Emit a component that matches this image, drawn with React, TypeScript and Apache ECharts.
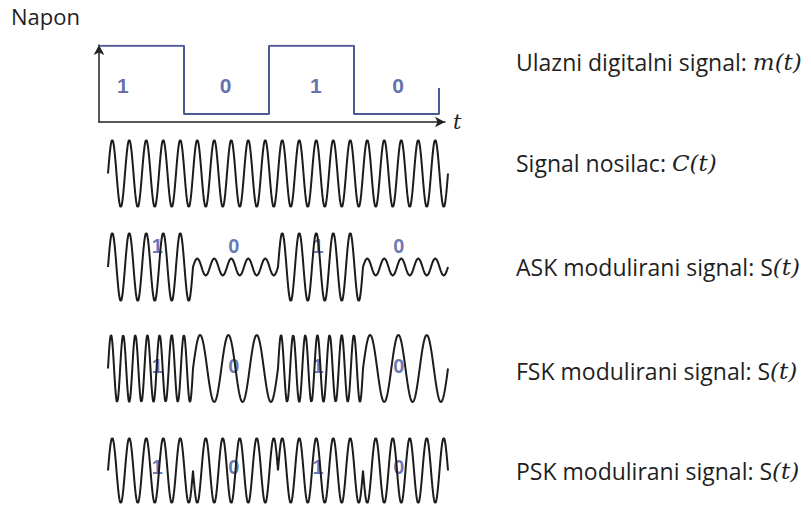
import { useEffect, useRef } from "react";
import * as echarts from "echarts";

// ---- data ----
const bits = [1, 0, 1, 0];
const bitLabels = ["1", "0", "1", "0"];
const carrierCyclesPerBit = 5;
const fskCyclesByBit = [3, 7]; // index = bit value
const askAmplitudeByBit = [0.25, 1]; // index = bit value
const pskPhaseByBit = [Math.PI, 0]; // index = bit value
const digitalTailLevel = 0.38; // partial rising edge at the right end
const samplesPerBit = 200;

const digitalLabelX = [0.28, 1.49, 2.55, 3.52];
const digitalLabelY = 0.42;
const waveLabelX = [0.58, 1.48, 2.47, 3.42];
const askLabelY = 0.62;
const fskLabelY = 0.06;
const pskLabelY = 0.1;

const rightTexts = [
  "Ulazni digitalni signal: {m|m(t)}",
  "Signal nosilac: {m|C(t)}",
  "ASK modulirani signal: S{m|(t)}",
  "FSK modulirani signal: S{m|(t)}",
  "PSK modulirani signal: S{m|(t)}",
];

// ---- derived series ----
function buildWave(fn: (t: number, bit: number, tau: number) => number) {
  const out: number[][] = [];
  const n = bits.length * samplesPerBit;
  for (let i = 0; i <= n; i++) {
    const t = i / samplesPerBit;
    const k = Math.min(Math.floor(t), bits.length - 1);
    out.push([t, fn(t, bits[k], t - k)]);
  }
  return out;
}

const digitalData: number[][] = [];
bits.forEach((b, k) => {
  digitalData.push([k, b], [k + 1, b]);
});
digitalData.push([bits.length, digitalTailLevel]);

const carrierData = buildWave((t) => Math.sin(2 * Math.PI * carrierCyclesPerBit * t));
const askData = buildWave((t, b) => askAmplitudeByBit[b] * Math.sin(2 * Math.PI * carrierCyclesPerBit * t));
const fskData = buildWave((_t, b, tau) => Math.sin(2 * Math.PI * fskCyclesByBit[b] * tau));
const pskData = buildWave((t, b) => Math.sin(2 * Math.PI * carrierCyclesPerBit * t + pskPhaseByBit[b]));

const TEXT_FONT = "'Open Sans', 'Noto Sans', sans-serif";
const MATH_FONT = "'DejaVu Serif', serif";
const LABEL_FONT = "'Liberation Sans', Arial, sans-serif";

export default function App() {
  const ref = useRef<HTMLDivElement>(null);

  useEffect(() => {
    if (!ref.current) return;
    const chart = echarts.init(ref.current, null, { renderer: "svg" });

    const grids = [
      { left: 99, top: 45, width: 346, height: 77 }, // axes
      { left: 99, top: 45.7, width: 340, height: 68.3 }, // digital
      { left: 108, top: 140, width: 340, height: 67 }, // carrier
      { left: 108, top: 233, width: 340, height: 68 }, // ASK
      { left: 108, top: 335, width: 340, height: 67 }, // FSK
      { left: 108, top: 438, width: 340, height: 65 }, // PSK
    ];

    const hiddenAxis = {
      show: false,
    };

    const xAxes: any[] = [
      {
        gridIndex: 0,
        type: "value",
        min: 0,
        max: 1,
        axisLine: {
          show: true,
          onZero: false,
          symbol: ["none", "arrow"],
          symbolSize: [8, 10],
          lineStyle: { color: "#222", width: 1.5 },
        },
        axisTick: { show: false },
        axisLabel: { show: false },
        splitLine: { show: false },
        name: "t",
        nameLocation: "end",
        nameGap: 8,
        nameTextStyle: {
          fontFamily: MATH_FONT,
          fontStyle: "italic",
          fontSize: 21,
          color: "#222",
          verticalAlign: "middle",
          padding: [0, 0, 2, 0],
        },
      },
      { gridIndex: 1, type: "value", min: 0, max: 4, ...hiddenAxis },
      { gridIndex: 2, type: "value", min: 0, max: 4, ...hiddenAxis },
      { gridIndex: 3, type: "value", min: 0, max: 4, ...hiddenAxis },
      { gridIndex: 4, type: "value", min: 0, max: 4, ...hiddenAxis },
      { gridIndex: 5, type: "value", min: 0, max: 4, ...hiddenAxis },
    ];
    const yAxes: any[] = [
      {
        gridIndex: 0,
        type: "value",
        min: 0,
        max: 1,
        axisLine: {
          show: true,
          onZero: false,
          symbol: ["none", "arrow"],
          symbolSize: [8, 10],
          lineStyle: { color: "#222", width: 1.5 },
        },
        axisTick: { show: false },
        axisLabel: { show: false },
        splitLine: { show: false },
      },
      { gridIndex: 1, type: "value", min: 0, max: 1, ...hiddenAxis },
      { gridIndex: 2, type: "value", min: -1, max: 1, ...hiddenAxis },
      { gridIndex: 3, type: "value", min: -1, max: 1, ...hiddenAxis },
      { gridIndex: 4, type: "value", min: -1, max: 1, ...hiddenAxis },
      { gridIndex: 5, type: "value", min: -1, max: 1, ...hiddenAxis },
    ];

    const waveLine = (idx: number, data: number[][]) => ({
      type: "line",
      xAxisIndex: idx,
      yAxisIndex: idx,
      data,
      showSymbol: false,
      symbol: "none",
      z: 3,
      lineStyle: { color: "#1c1c1c", width: 2 },
      silent: true,
    });

    const labelSeries = (idx: number, xs: number[], y: number, size: number, color: string) => ({
      type: "scatter",
      xAxisIndex: idx,
      yAxisIndex: idx,
      data: xs.map((x) => [x, y]),
      symbolSize: 1,
      itemStyle: { color: "rgba(0,0,0,0)" },
      z: 1,
      silent: true,
      label: {
        show: true,
        position: "inside",
        formatter: (p: any) => bitLabels[p.dataIndex],
        fontFamily: LABEL_FONT,
        fontWeight: "bold",
        fontSize: size,
        color,
      },
    });

    const rightY = [62, 163, 267, 371, 471];

    chart.setOption({
      animation: false,
      backgroundColor: "#ffffff",
      grid: grids,
      xAxis: xAxes,
      yAxis: yAxes,
      series: [
        {
          type: "line",
          xAxisIndex: 1,
          yAxisIndex: 1,
          data: digitalData,
          showSymbol: false,
          symbol: "none",
          z: 3,
          lineStyle: { color: "#4b5a97", width: 2 },
          silent: true,
        },
        labelSeries(1, digitalLabelX, digitalLabelY, 21, "#3b4b98"),
        waveLine(2, carrierData),
        waveLine(3, askData),
        labelSeries(3, waveLabelX, askLabelY, 20, "#4454a4"),
        waveLine(4, fskData),
        labelSeries(4, waveLabelX, fskLabelY, 20, "#4454a4"),
        waveLine(5, pskData),
        labelSeries(5, waveLabelX, pskLabelY, 20, "#4454a4"),
      ],
      graphic: [
        {
          type: "text",
          x: 11,
          y: 16,
          style: {
            text: "Napon",
            fontFamily: TEXT_FONT,
            fontSize: 22,
            fill: "#1f1f1f",
            verticalAlign: "middle",
          },
        },
        ...rightTexts.map((t, i) => ({
          type: "text",
          x: 516,
          y: rightY[i],
          style: {
            text: t,
            fontFamily: TEXT_FONT,
            fontSize: 23,
            fill: "#1f1f1f",
            verticalAlign: "middle",
            rich: {
              m: {
                fontFamily: MATH_FONT,
                fontStyle: "italic",
                fontSize: 23,
                fill: "#1f1f1f",
              },
            },
          },
        })),
      ],
    });

    return () => chart.dispose();
  }, []);

  return (
    <div
      ref={ref}
      style={{ position: "fixed", left: 0, top: 0, width: 811, height: 506, background: "#fff" }}
    />
  );
}
